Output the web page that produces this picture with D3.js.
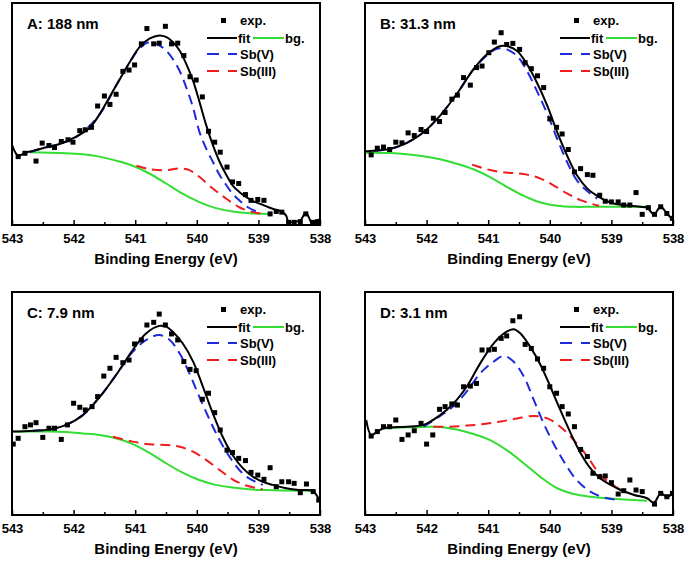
<!DOCTYPE html>
<html lang="en">
<head>
<meta charset="utf-8">
<title>Sb 3d XPS fits</title>
<script src="https://cdn.jsdelivr.net/npm/d3@7/dist/d3.min.js"></script>
<style>
  body { margin: 0; background: #fff; }
  text { font-family: "Liberation Sans", Arial, sans-serif; font-weight: bold; fill: #000; }
</style>
</head>
<body>
<div id="chart"></div>
<script>
// ---- data: [binding energy (eV), intensity (a.u., 0-100 of frame)] ----
var panelLabels = ["A: 188 nm", "B: 31.3 nm", "C: 7.9 nm", "D: 3.1 nm"];
var xTicks = [543, 542, 541, 540, 539, 538];
var legendNames = ["exp.", "fit", "bg.", "Sb(V)", "Sb(III)"];

var expA = [[542.9,30.8],[542.79,32.3],[542.61,28.8],[542.51,36.9],[542.4,35.8],[542.31,34.9],[542.2,37.6],[542.09,38.4],[542.01,37.3],[541.9,42.5],[541.81,42.9],[541.71,44.0],[541.61,53.6],[541.5,58.1],[541.41,54.3],[541.31,58.9],[541.2,69.2],[541.1,69.8],[541.01,72.1],[540.9,81.6],[540.81,88.5],[540.7,81.6],[540.61,81.9],[540.51,89.5],[540.41,81.6],[540.31,81.9],[540.21,76.3],[540.11,66.8],[540.01,65.3],[539.91,57.7],[539.81,42.2],[539.71,37.3],[539.62,32.8],[539.51,26.1],[539.42,19.4],[539.32,18.7],[539.21,13.7],[539.12,11.1],[539.01,11.5],[538.91,11.1],[538.81,5.0],[538.71,6.1],[538.62,5.8],[538.51,1.2],[538.42,1.2],[538.32,1.5],[538.23,5.0],[538.12,1.2],[538.04,1.5]];
var fitA = [[543.0,36.1],[542.9,31.3],[542.77,32.8],[542.66,33.4],[542.5,34.6],[542.31,35.8],[542.12,37.6],[541.9,40.7],[541.74,43.7],[541.58,49.8],[541.42,57.4],[541.25,65.7],[541.09,73.3],[540.93,80.1],[540.77,83.9],[540.61,85.4],[540.5,84.7],[540.39,82.4],[540.28,78.6],[540.17,72.5],[540.06,64.9],[539.96,55.8],[539.85,45.2],[539.74,36.1],[539.63,28.5],[539.52,22.5],[539.42,17.9],[539.31,14.9],[539.2,12.6],[539.09,10.8],[538.98,9.6],[538.88,8.5],[538.77,7.3],[538.63,6.1],[538.55,4.2],[538.51,1.2],[538.42,1.5],[538.32,2.0],[538.23,5.5],[538.12,0.5],[538.04,2.0],[538.0,2.7]];
var bgA = [[542.71,32.8],[542.39,32.6],[542.12,32.3],[541.85,31.9],[541.58,30.8],[541.31,29.0],[541.04,26.7],[540.77,23.2],[540.5,18.7],[540.23,14.1],[539.96,10.3],[539.69,7.6],[539.42,6.1],[539.15,5.3],[538.81,5.0]];
var sbVA = [[542.71,32.8],[542.5,34.6],[542.12,37.6],[541.9,40.7],[541.58,49.8],[541.25,65.7],[540.93,79.5],[540.77,82.4],[540.61,80.9],[540.5,78.6],[540.39,74.8],[540.28,69.5],[540.17,61.9],[540.06,52.8],[539.96,42.2],[539.85,34.6],[539.74,28.5],[539.63,22.5],[539.52,17.9],[539.42,14.1],[539.31,11.1],[539.17,8.0],[539.01,5.8]];
var sbIIIA = [[540.98,26.7],[540.77,25.2],[540.5,24.7],[540.28,25.5],[540.12,24.7],[539.96,21.7],[539.74,16.4],[539.52,11.8],[539.31,8.0],[539.09,5.8],[538.93,5.0]];

var expB = [[542.9,31.6],[542.8,34.6],[542.7,35.1],[542.6,34.0],[542.5,37.3],[542.4,37.0],[542.3,41.5],[542.2,40.3],[542.09,43.0],[542.0,42.1],[541.89,48.1],[541.79,46.6],[541.7,50.7],[541.59,56.7],[541.5,58.5],[541.4,66.4],[541.29,63.0],[541.19,70.9],[541.1,71.6],[540.99,77.6],[540.9,82.4],[540.79,86.6],[540.7,81.3],[540.6,81.8],[540.49,79.1],[540.4,73.1],[540.3,70.4],[540.2,67.2],[540.1,61.9],[540.0,47.8],[539.89,44.0],[539.8,41.0],[539.7,34.0],[539.6,23.9],[539.5,25.4],[539.39,22.7],[539.3,22.4],[539.19,13.4],[539.1,10.7],[539.0,10.4],[538.89,10.4],[538.8,9.0],[538.7,9.0],[538.6,14.6],[538.5,4.8],[538.4,7.8],[538.3,4.8],[538.2,8.2],[538.1,5.2],[538.01,3.0]];
var fitB = [[543.0,33.1],[542.86,33.4],[542.59,34.3],[542.32,37.0],[542.05,41.8],[541.78,49.3],[541.51,59.0],[541.24,70.1],[541.02,76.9],[540.8,80.6],[540.7,80.6],[540.53,78.4],[540.37,72.4],[540.21,64.2],[540.04,53.7],[539.88,41.8],[539.72,31.3],[539.56,22.4],[539.39,16.4],[539.23,13.1],[539.07,10.7],[538.91,9.3],[538.69,8.7],[538.53,8.2],[538.42,7.8],[538.31,4.8],[538.2,8.2],[538.1,5.2],[538.0,2.2]];
var bgB = [[543.0,32.5],[542.59,32.4],[542.32,31.9],[542.05,31.0],[541.78,29.6],[541.51,27.6],[541.24,25.1],[540.97,21.6],[540.7,17.2],[540.42,13.1],[540.15,10.1],[539.88,8.7],[539.61,8.2],[539.29,8.2],[538.8,8.2],[538.42,8.2]];
var sbVB = [[542.86,33.4],[542.59,34.3],[542.32,37.0],[542.05,41.8],[541.78,49.3],[541.51,59.0],[541.24,70.1],[541.02,76.4],[540.86,79.4],[540.7,79.1],[540.53,76.1],[540.37,69.4],[540.21,60.4],[540.04,50.0],[539.88,38.8],[539.72,28.4],[539.56,20.1],[539.39,15.2],[539.23,11.9]];
var sbIIIB = [[541.26,27.2],[541.02,25.1],[540.8,23.9],[540.59,23.4],[540.37,22.7],[540.15,20.9],[539.94,17.9],[539.72,14.2],[539.5,11.2],[539.29,9.3],[539.2,8.7]];

var expC = [[542.98,31.8],[542.9,34.4],[542.79,39.6],[542.7,40.4],[542.61,41.4],[542.5,34.8],[542.4,38.9],[542.31,38.9],[542.2,33.9],[542.1,40.4],[542.0,50.1],[541.9,48.3],[541.81,47.1],[541.7,48.6],[541.61,53.1],[541.51,62.3],[541.41,65.8],[541.31,70.7],[541.2,68.3],[541.1,69.5],[541.01,76.7],[540.9,78.5],[540.81,85.2],[540.7,86.4],[540.61,90.1],[540.51,85.2],[540.41,81.2],[540.31,78.5],[540.21,68.8],[540.11,65.3],[540.01,64.7],[539.91,51.9],[539.81,54.6],[539.71,45.9],[539.62,38.1],[539.51,29.1],[539.42,28.0],[539.32,25.4],[539.21,24.4],[539.12,19.1],[539.01,17.9],[538.91,16.0],[538.81,21.2],[538.71,12.7],[538.62,14.9],[538.51,14.9],[538.42,14.2],[538.32,10.0],[538.22,13.9],[538.11,10.5],[538.02,6.7]];
var fitC = [[543.0,37.4],[542.66,37.8],[542.39,38.4],[542.12,40.4],[541.85,44.8],[541.58,52.8],[541.31,62.8],[541.04,74.0],[540.82,81.5],[540.61,84.8],[540.5,84.5],[540.39,82.2],[540.23,77.0],[540.06,68.8],[539.9,57.5],[539.74,45.6],[539.58,35.1],[539.42,26.9],[539.25,20.9],[539.09,17.2],[538.93,14.9],[538.77,13.5],[538.55,12.0],[538.34,11.2],[538.12,10.9],[538.04,8.2],[538.0,6.0]];
var bgC = [[543.0,37.4],[542.66,37.4],[542.39,37.4],[542.12,37.2],[541.85,36.6],[541.58,35.9],[541.31,34.4],[541.04,31.8],[540.77,27.9],[540.5,23.2],[540.23,19.0],[539.96,15.7],[539.69,13.5],[539.42,12.3],[539.15,11.5],[538.88,11.2],[538.34,10.9],[538.09,10.8]];
var sbVC = [[542.66,37.8],[542.39,38.4],[542.12,40.4],[541.85,44.8],[541.58,52.8],[541.31,62.8],[541.04,73.2],[540.82,78.5],[540.61,80.7],[540.44,78.5],[540.28,72.5],[540.12,63.5],[539.96,53.1],[539.79,42.6],[539.63,33.6],[539.47,26.2],[539.31,20.2],[539.15,16.4],[538.93,13.5]];
var sbIIIC = [[541.36,35.1],[541.04,32.9],[540.77,31.7],[540.5,31.4],[540.28,30.6],[540.06,28.4],[539.85,24.7],[539.63,20.2],[539.42,16.0],[539.2,13.2],[538.93,11.5]];

var expD = [[542.9,35.4],[542.8,37.4],[542.7,39.6],[542.6,39.6],[542.5,42.6],[542.4,33.9],[542.3,35.9],[542.2,37.8],[542.09,41.1],[542.0,31.8],[541.9,35.9],[541.79,47.4],[541.7,48.6],[541.59,49.8],[541.5,49.3],[541.4,57.5],[541.29,57.8],[541.19,59.0],[541.1,74.0],[540.99,74.0],[540.9,74.3],[540.79,79.2],[540.7,80.3],[540.6,87.1],[540.49,88.9],[540.4,76.5],[540.3,74.7],[540.2,70.0],[540.1,65.8],[540.0,57.5],[539.89,54.6],[539.8,48.6],[539.7,45.3],[539.6,39.6],[539.5,29.4],[539.39,26.2],[539.3,18.7],[539.19,17.2],[539.1,17.5],[539.0,14.5],[538.89,9.4],[538.8,10.9],[538.7,15.7],[538.6,11.2],[538.5,10.5],[538.3,4.9],[538.2,9.7],[538.1,8.2],[538.01,9.7]];
var fitD = [[542.98,42.6],[542.9,35.9],[542.8,37.4],[542.7,38.9],[542.59,39.3],[542.32,39.6],[542.05,40.4],[541.78,44.8],[541.56,50.1],[541.35,57.5],[541.13,68.0],[540.91,77.0],[540.7,82.2],[540.59,83.3],[540.48,81.5],[540.32,75.5],[540.15,67.3],[539.99,57.5],[539.83,47.1],[539.66,36.6],[539.5,27.7],[539.34,20.9],[539.18,16.4],[539.01,13.5],[538.85,11.2],[538.63,9.0],[538.42,7.5],[538.31,5.5],[538.2,9.7],[538.1,8.2],[538.0,9.7]];
var bgD = [[542.7,38.9],[542.32,39.3],[542.05,39.5],[541.78,39.5],[541.51,38.3],[541.24,36.3],[540.97,33.6],[540.7,29.1],[540.42,23.1],[540.15,17.0],[539.88,12.0],[539.61,9.4],[539.34,8.2],[539.07,7.5],[538.8,7.0],[538.42,6.4]];
var sbVD = [[542.05,39.6],[541.78,44.4],[541.56,48.9],[541.35,55.3],[541.13,63.5],[540.91,68.8],[540.75,71.3],[540.59,68.8],[540.42,62.0],[540.26,51.6],[540.1,41.1],[539.94,32.1],[539.77,23.9],[539.61,17.2],[539.45,12.7],[539.29,9.7],[539.07,7.5],[538.85,6.7]];
var sbIIID = [[541.89,39.6],[541.62,39.6],[541.35,40.1],[541.07,40.8],[540.8,41.9],[540.53,43.3],[540.26,44.4],[540.04,43.3],[539.83,39.6],[539.61,33.6],[539.39,26.2],[539.18,17.9],[539.01,14.2],[538.85,11.2]];

// ---- layout ----
var W = 685, H = 561;
var frames = [
  {x0: 12, x1: 320, y0: 3, y1: 225},
  {x0: 365, x1: 673, y0: 3, y1: 225},
  {x0: 12, x1: 320, y0: 292, y1: 515},
  {x0: 365, x1: 673, y0: 292, y1: 515}
];
var series = [
  {exp: expA, fit: fitA, bg: bgA, sbV: sbVA, sbIII: sbIIIA},
  {exp: expB, fit: fitB, bg: bgB, sbV: sbVB, sbIII: sbIIIB},
  {exp: expC, fit: fitC, bg: bgC, sbV: sbVC, sbIII: sbIIIC},
  {exp: expD, fit: fitD, bg: bgD, sbV: sbVD, sbIII: sbIIID}
];
var green = "#33dd33", blue = "#1f2bd8", red = "#ee1c1c";

var svg = d3.select("#chart").append("svg")
  .attr("width", W).attr("height", H);

frames.forEach(function(f, i) {
  var d = series[i];
  var x = d3.scaleLinear().domain([543, 538]).range([f.x0, f.x1]);
  var y = d3.scaleLinear().domain([0, 100]).range([f.y1, f.y0]);
  var g = svg.append("g");

  g.append("clipPath").attr("id", "clip" + i)
    .append("rect").attr("x", f.x0).attr("y", f.y0)
    .attr("width", f.x1 - f.x0).attr("height", f.y1 - f.y0);

  var line = d3.line()
    .x(function(p) { return x(p[0]); })
    .y(function(p) { return y(p[1]); })
    .curve(d3.curveCatmullRom.alpha(0.5));

  var plot = g.append("g").attr("clip-path", "url(#clip" + i + ")");
  plot.append("path").datum(d.bg).attr("d", line)
    .attr("fill", "none").attr("stroke", green).attr("stroke-width", 2);
  plot.append("path").datum(d.sbIII).attr("d", line)
    .attr("fill", "none").attr("stroke", red).attr("stroke-width", 2)
    .attr("stroke-dasharray", "10,6");
  plot.append("path").datum(d.sbV).attr("d", line)
    .attr("fill", "none").attr("stroke", blue).attr("stroke-width", 2)
    .attr("stroke-dasharray", "10,6");
  plot.append("path").datum(d.fit).attr("d", line)
    .attr("fill", "none").attr("stroke", "#000").attr("stroke-width", 2);
  plot.selectAll("rect.pt").data(d.exp).enter().append("rect")
    .attr("class", "pt")
    .attr("x", function(p) { return x(p[0]) - 2.5; })
    .attr("y", function(p) { return y(p[1]) - 2.5; })
    .attr("width", 5).attr("height", 5).attr("fill", "#000");

  // bottom axis, ticks pointing inward
  var axis = d3.axisBottom(x).tickValues(xTicks).tickSizeInner(-5).tickSizeOuter(0)
    .tickPadding(9).tickFormat(d3.format("d"));
  var ax = g.append("g").attr("transform", "translate(0," + f.y1 + ")").call(axis);
  ax.select(".domain").remove();
  ax.selectAll("line").attr("stroke", "#000").attr("stroke-width", 1.5);
  ax.selectAll("text").attr("font-size", 13).attr("font-weight", "bold")
    .attr("font-family", "Liberation Sans, Arial, sans-serif");
  var minor = d3.axisBottom(x).tickValues([542.5, 541.5, 540.5, 539.5, 538.5])
    .tickSizeInner(-3).tickSizeOuter(0).tickFormat("");
  var mx = g.append("g").attr("transform", "translate(0," + f.y1 + ")").call(minor);
  mx.select(".domain").remove();
  mx.selectAll("line").attr("stroke", "#000").attr("stroke-width", 1.5);

  g.append("rect").attr("x", f.x0).attr("y", f.y0)
    .attr("width", f.x1 - f.x0).attr("height", f.y1 - f.y0)
    .attr("fill", "none").attr("stroke", "#000").attr("stroke-width", 2);

  g.append("text").attr("x", (f.x0 + f.x1) / 2).attr("y", f.y1 + 39)
    .attr("text-anchor", "middle").attr("font-size", 15)
    .text("Binding Energy (eV)");

  g.append("text").attr("x", f.x0 + 15).attr("y", f.y0 + 26)
    .attr("font-size", 15).text(panelLabels[i]);

  // legend
  var lx = f.x1 - 111, ly = f.y0;
  var leg = g.append("g");
  leg.append("rect").attr("x", lx + 12).attr("y", ly + 15).attr("width", 5).attr("height", 5).attr("fill", "#000");
  leg.append("text").attr("x", lx + 31).attr("y", ly + 22).attr("font-size", 13).text(legendNames[0]);
  leg.append("line").attr("x1", lx - 2).attr("x2", lx + 28).attr("y1", ly + 35).attr("y2", ly + 35)
    .attr("stroke", "#000").attr("stroke-width", 2);
  leg.append("text").attr("x", lx + 29).attr("y", ly + 40).attr("font-size", 13).text(legendNames[1]);
  leg.append("line").attr("x1", lx + 44).attr("x2", lx + 75).attr("y1", ly + 35).attr("y2", ly + 35)
    .attr("stroke", green).attr("stroke-width", 2);
  leg.append("text").attr("x", lx + 76).attr("y", ly + 40).attr("font-size", 13).text(legendNames[2]);
  leg.append("line").attr("x1", lx - 2).attr("x2", lx + 28).attr("y1", ly + 51).attr("y2", ly + 51)
    .attr("stroke", blue).attr("stroke-width", 2).attr("stroke-dasharray", "12,9");
  leg.append("text").attr("x", lx + 31).attr("y", ly + 56).attr("font-size", 13).text(legendNames[3]);
  leg.append("line").attr("x1", lx - 2).attr("x2", lx + 28).attr("y1", ly + 68).attr("y2", ly + 68)
    .attr("stroke", red).attr("stroke-width", 2).attr("stroke-dasharray", "12,9");
  leg.append("text").attr("x", lx + 31).attr("y", ly + 73).attr("font-size", 13).text(legendNames[4]);
});
</script>
</body>
</html>
